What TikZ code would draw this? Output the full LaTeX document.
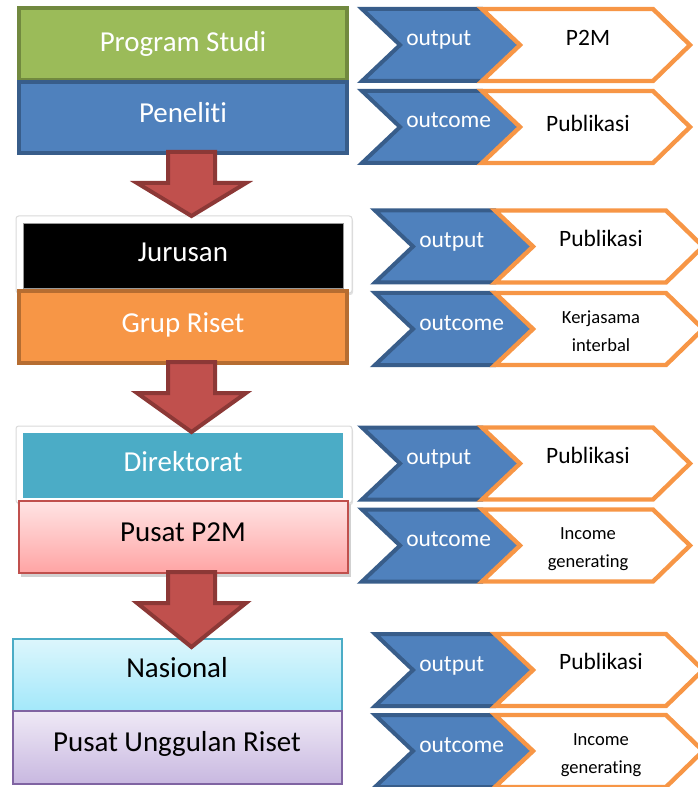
\documentclass[tikz,border=0pt]{standalone}
\usepackage{fontspec}
\setmainfont[Ligatures={NoCommon}]{Carlito}
\usepackage{tikz}

\definecolor{prodigreen}{HTML}{9BBB59}
\definecolor{prodiline}{HTML}{71893F}
\definecolor{boxblue}{HTML}{4F81BD}
\definecolor{boxblueline}{HTML}{385D8A}
\definecolor{riseorange}{HTML}{F79646}
\definecolor{riseline}{HTML}{B66D31}
\definecolor{dirteal}{HTML}{4BACC6}
\definecolor{pinktop}{HTML}{FFE4E4}
\definecolor{pinkbot}{HTML}{FFA4A4}
\definecolor{pinkline}{HTML}{C0504D}
\definecolor{cyantop}{HTML}{DCF6FC}
\definecolor{cyanbot}{HTML}{A3E8FA}
\definecolor{lilactop}{HTML}{EFE9F6}
\definecolor{lilacbot}{HTML}{C8B8E0}
\definecolor{lilacline}{HTML}{8064A2}
\definecolor{arrowred}{HTML}{C0504D}
\definecolor{arrowline}{HTML}{8C3836}

\begin{document}
\begin{tikzpicture}[x=0.75pt,y=0.75pt,yscale=-1,xscale=1,
  boxtext/.style={anchor=base,inner sep=0.75pt,font=\fontsize{21.7}{26}\selectfont,text=white},
  chevtext/.style={anchor=base west,inner sep=0.75pt,font=\fontsize{17.6}{21}\selectfont,text=white},
  restext/.style={anchor=base,inner sep=0.75pt,font=\fontsize{17.6}{21}\selectfont,align=center},
  smalltext/.style={anchor=base,inner sep=0.75pt,font=\fontsize{13.9}{20.5}\selectfont,align=center},
  bluechev/.style={fill=boxblue,draw=boxblueline,line width=3pt},
  orangechev/.style={fill=white,draw=riseorange,line width=3.3pt},
  blockarrow/.style={fill=arrowred,draw=arrowline,line width=3pt},
  whitebox/.style={fill=white,draw=black!15,line width=0.75pt,rounded corners=2pt}]
\useasboundingbox (0,0) rectangle (697,787);

%Shape: Rectangle [Program Studi]
\draw [fill=prodigreen,draw=prodiline,line width=3pt] (19,8) rectangle (347,80);
%Shape: Rectangle [Peneliti]
\draw [fill=boxblue,draw=boxblueline,line width=3pt] (19,82) rectangle (347,153);

%Shape: Rectangle [Jurusan]
\fill [black!12,rounded corners=2pt] (17,218) rectangle (353,295);
\draw [whitebox] (16,216) rectangle (352,293);
\draw [fill=black,draw=black!40,line width=0.5pt] (23,223) rectangle (343,288);
%Shape: Rectangle [Grup Riset]
\draw [fill=riseorange,draw=riseline,line width=3pt] (19,291) rectangle (347,363);

%Shape: Rectangle [Direktorat]
\fill [black!12,rounded corners=2pt] (17,428) rectangle (353,505);
\draw [whitebox] (16,426) rectangle (352,503);
\fill [dirteal] (23,433) rectangle (343,498);
%Shape: Rectangle [Pusat P2M]
\fill [black!18] (21,504) rectangle (351,577);
\shadedraw [top color=pinktop,bottom color=pinkbot,draw=pinkline,line width=1.1pt] (19,501) rectangle (348,573);

%Shape: Rectangle [Nasional]
\shadedraw [top color=cyantop,bottom color=cyanbot,draw=dirteal,line width=1.5pt] (13,639) rectangle (342,711);
%Shape: Rectangle [Pusat Unggulan Riset]
\shadedraw [top color=lilactop,bottom color=lilacbot,draw=lilacline,line width=1.5pt] (13,711) rectangle (342,784);

%Shape: Block Arrows
\draw [blockarrow] (168,152) -- (215,152) -- (215,183) -- (246,183) -- (191.5,216) -- (137,183) -- (168,183) -- cycle ;
\draw [blockarrow] (168,362) -- (215,362) -- (215,393) -- (246,393) -- (191.5,432) -- (137,393) -- (168,393) -- cycle ;
\draw [blockarrow] (168,572) -- (215,572) -- (215,603) -- (246,603) -- (191.5,647) -- (137,603) -- (168,603) -- cycle ;

%Shape: Chevrons
\draw [bluechev,shift={(360,45)}] (2,-36) -- (122,-36) -- (160,0) -- (122,36) -- (2,36) -- (40,0) -- cycle ;
\draw [orangechev,shift={(360,45)}] (122,-36) -- (293,-36) -- (330,0) -- (293,36) -- (122,36) -- (160,0) -- cycle ;
\draw [bluechev,shift={(360,127)}] (2,-36) -- (122,-36) -- (160,0) -- (122,36) -- (2,36) -- (40,0) -- cycle ;
\draw [orangechev,shift={(360,127)}] (122,-36) -- (293,-36) -- (330,0) -- (293,36) -- (122,36) -- (160,0) -- cycle ;
\draw [bluechev,shift={(373,246.5)}] (2,-36) -- (122,-36) -- (160,0) -- (122,36) -- (2,36) -- (40,0) -- cycle ;
\draw [orangechev,shift={(373,246.5)}] (122,-36) -- (293,-36) -- (330,0) -- (293,36) -- (122,36) -- (160,0) -- cycle ;
\draw [bluechev,shift={(373,329)}] (2,-36) -- (122,-36) -- (160,0) -- (122,36) -- (2,36) -- (40,0) -- cycle ;
\draw [orangechev,shift={(373,329)}] (122,-36) -- (293,-36) -- (330,0) -- (293,36) -- (122,36) -- (160,0) -- cycle ;
\draw [bluechev,shift={(360,463.5)}] (2,-36) -- (122,-36) -- (160,0) -- (122,36) -- (2,36) -- (40,0) -- cycle ;
\draw [orangechev,shift={(360,463.5)}] (122,-36) -- (293,-36) -- (330,0) -- (293,36) -- (122,36) -- (160,0) -- cycle ;
\draw [bluechev,shift={(360,545.5)}] (2,-36) -- (122,-36) -- (160,0) -- (122,36) -- (2,36) -- (40,0) -- cycle ;
\draw [orangechev,shift={(360,545.5)}] (122,-36) -- (293,-36) -- (330,0) -- (293,36) -- (122,36) -- (160,0) -- cycle ;
\draw [bluechev,shift={(373,670)}] (2,-36) -- (122,-36) -- (160,0) -- (122,36) -- (2,36) -- (40,0) -- cycle ;
\draw [orangechev,shift={(373,670)}] (122,-36) -- (293,-36) -- (330,0) -- (293,36) -- (122,36) -- (160,0) -- cycle ;
\draw [bluechev,shift={(373,751)}] (2,-36) -- (122,-36) -- (160,0) -- (122,36) -- (2,36) -- (40,0) -- cycle ;
\draw [orangechev,shift={(373,751)}] (122,-36) -- (293,-36) -- (330,0) -- (293,36) -- (122,36) -- (160,0) -- cycle ;

% Text Node
\node [boxtext] (prodi) at (183,52) {Program Studi};
\node [boxtext] (peneliti) at (183,123) {Peneliti};
\node [boxtext] (jurusan) at (183,262) {Jurusan};
\node [boxtext] (grupriset) at (183,332) {Grup Riset};
\node [boxtext] (direktorat) at (183,471) {Direktorat};
\node [boxtext,text=black] (pusatp2m) at (183,541) {Pusat P2M};
\node [boxtext,text=black] (nasional) at (177,677) {Nasional};
\node [boxtext,text=black] (unggulan) at (177,751) {Pusat Unggulan Riset};

% Text Node
\node [chevtext] (outA) at (405,46) {output};
\node [restext] (resA) at (588,46) {P2M};
\node [chevtext] (ocA) at (405,128) {outcome};
\node [restext] (resB) at (588,132) {Publikasi};
\node [chevtext] (outB) at (418,247.5) {output};
\node [restext] (resC) at (601,247) {Publikasi};
\node [chevtext] (ocB) at (418,330) {outcome};
\node [smalltext] (resD) at (601,351) {Kerjasama\\interbal};
\node [chevtext] (outC) at (405,464.5) {output};
\node [restext] (resE) at (588,463) {Publikasi};
\node [chevtext] (ocC) at (405,546.5) {outcome};
\node [smalltext] (resF) at (588,567) {Income\\generating};
\node [chevtext] (outD) at (418,671) {output};
\node [restext] (resG) at (601,669) {Publikasi};
\node [chevtext] (ocD) at (418,752) {outcome};
\node [smalltext] (resH) at (601,773) {Income\\generating};

\end{tikzpicture}
\end{document}
